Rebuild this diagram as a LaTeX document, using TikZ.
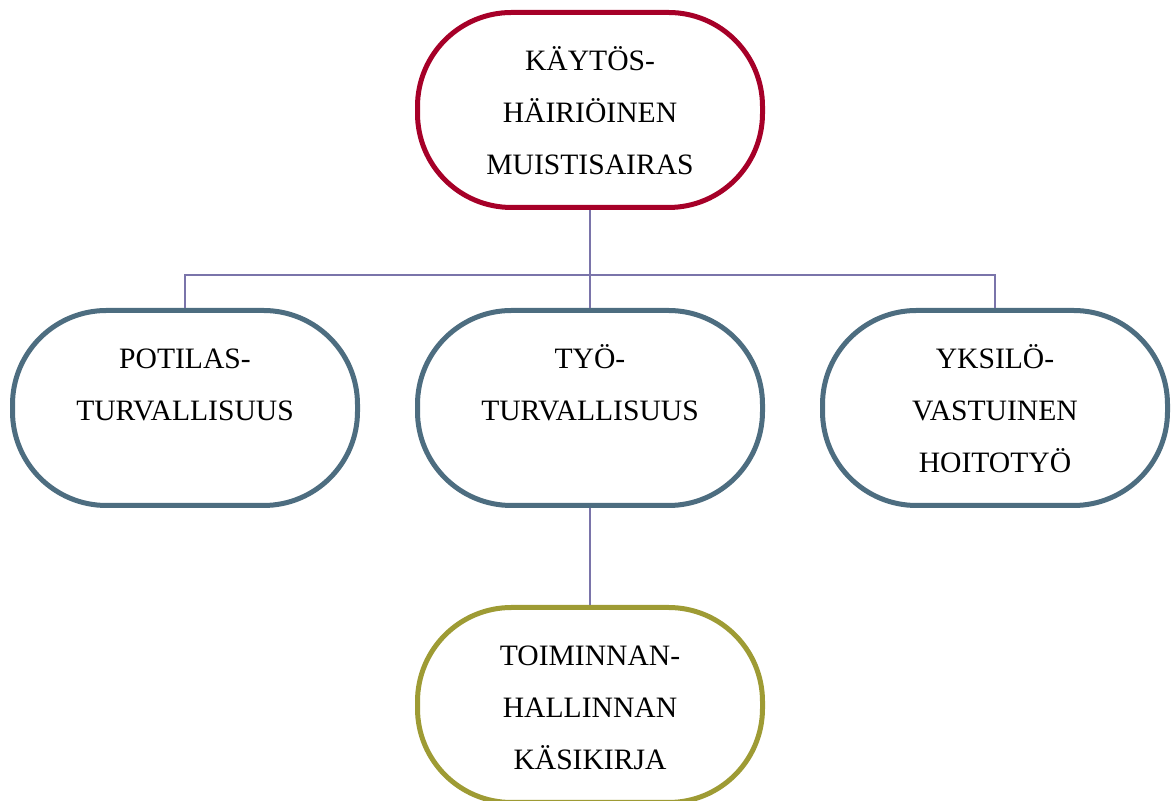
\documentclass[tikz,border=0pt]{standalone}
\usepackage{fontspec}
\setmainfont{Liberation Serif}
\usepackage{tikz}
\usetikzlibrary{positioning}
\definecolor{punainen}{RGB}{166,0,40}
\definecolor{sininen}{RGB}{77,109,128}
\definecolor{oliivi}{RGB}{158,155,52}
\definecolor{violetti}{RGB}{122,116,170}
\newcommand{\teksti}[1]{\parbox[c][75.4pt][t]{170pt}{\centering\strut #1}}

\begin{document}
\begin{tikzpicture}[node distance=49pt and 27.5pt,
    laatikko/.style={rectangle, rounded corners=47pt, line width=2.5pt, fill=white,
                     inner sep=0pt, minimum width=172.5pt, minimum height=97.5pt,
                     font=\fontsize{14.8}{26}\selectfont},
    yhteys/.style={draw=violetti, line width=1pt}]
  \useasboundingbox (0,0) rectangle (585.5pt,400.5pt);
  \node[laatikko, draw=punainen] (kaytos) at (295pt,345.5pt) {\teksti{KÄYTÖS-\\HÄIRIÖINEN\\MUISTISAIRAS}};
  \node[laatikko, draw=sininen, below=of kaytos] (tyo) {\teksti{TYÖ-\\TURVALLISUUS}};
  \node[laatikko, draw=sininen, left=of tyo] (potilas) {\teksti{POTILAS-\\TURVALLISUUS}};
  \node[laatikko, draw=sininen, right=of tyo] (yksilo) {\teksti{YKSILÖ-\\VASTUINEN\\HOITOTYÖ}};
  \node[laatikko, draw=oliivi, below=48.5pt of tyo] (kasikirja) {\teksti{TOIMINNAN-\\HALLINNAN\\KÄSIKIRJA}};

  \coordinate (haara) at ([yshift=-32.5pt]kaytos.south);
  \draw[yhteys] (kaytos) -- (tyo);
  \draw[yhteys] (potilas) |- (haara) -| (yksilo);
  \draw[yhteys] (tyo) -- (kasikirja);
\end{tikzpicture}
\end{document}
